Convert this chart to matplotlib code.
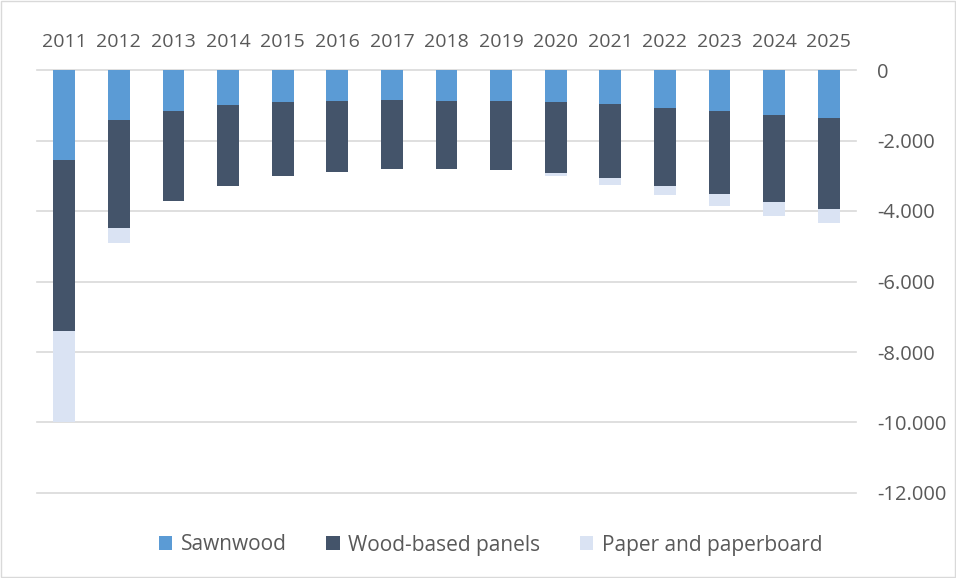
import numpy as np
import matplotlib
matplotlib.use("Agg")
import matplotlib.pyplot as plt
from matplotlib.patches import Rectangle
from matplotlib.ticker import FuncFormatter

years = [str(y) for y in range(2011, 2026)]
sawnwood = [-2540, -1430, -1150, -990, -900, -870, -850, -870, -870, -920, -970, -1080, -1170, -1290, -1360]
panels = [-4870, -3040, -2580, -2310, -2120, -2010, -1970, -1950, -1980, -2000, -2100, -2210, -2350, -2460, -2570]
paper = [-2580, -440, 0, 0, 0, 0, 0, 0, 0, -90, -180, -260, -340, -400, -420]

c_saw = '#5B9BD5'
c_pan = '#44546A'
c_pap = '#DAE3F3'
txt = '#595959'

plt.rcParams['font.family'] = ['Open Sans', 'DejaVu Sans']

fig = plt.figure(figsize=(9.56, 5.78), dpi=100)
ax = fig.add_axes([37/956, 1-493/578, (856-37)/956, (493-70)/578])

x = np.arange(len(years))
w = 0.4
saw = np.array(sawnwood)
pan = np.array(panels)
pap = np.array(paper)
ax.bar(x, saw, w, color=c_saw, label='Sawnwood', zorder=3)
ax.bar(x, pan, w, bottom=saw, color=c_pan, label='Wood-based panels', zorder=3)
ax.bar(x, pap, w, bottom=saw+pan, color=c_pap, label='Paper and paperboard', zorder=3)

ax.set_xlim(-0.5, len(years)-0.5)
ax.set_ylim(-12000, 0)
ax.set_yticks(range(-12000, 1, 2000))
ax.yaxis.set_major_formatter(FuncFormatter(lambda v, p: f'{int(v):,}'.replace(',', '.')))
ax.yaxis.tick_right()
ax.xaxis.tick_top()
ax.set_xticks(x)
ax.set_xticklabels(years)
ax.tick_params(axis='x', length=0, pad=14, labelsize=14, labelcolor=txt)
ax.tick_params(axis='y', length=0, pad=15, labelsize=14.5, labelcolor=txt)
ax.grid(axis='y', color='#D9D9D9', lw=1.2, zorder=0)
for gl in ax.get_ygridlines():
    gl.set_clip_on(False)
for s in ax.spines.values():
    s.set_visible(False)

fig.legend(loc='center', bbox_to_anchor=(0.513, 1-545/578), ncol=3, frameon=False,
           fontsize=15, labelcolor=txt, handlelength=0.65, handleheight=0.65,
           handletextpad=0.4, columnspacing=1.9)

fig.patches.append(Rectangle((0.001, 0.001), 0.998, 0.998, transform=fig.transFigure,
                             fill=False, edgecolor='#D9D9D9', lw=1))

fig.savefig('out.png', dpi=100)
